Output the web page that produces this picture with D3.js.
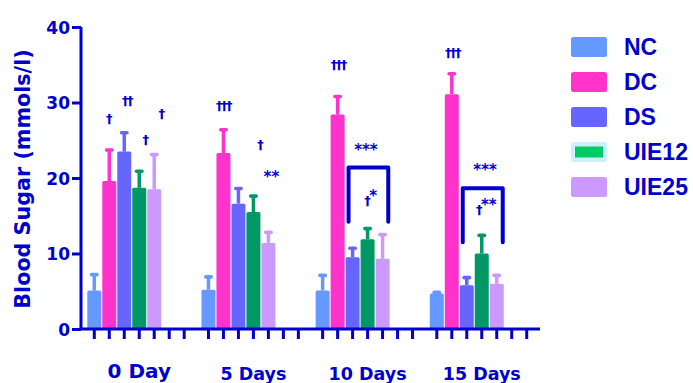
<!DOCTYPE html>
<html>
<head>
<meta charset="utf-8">
<script src="https://cdn.jsdelivr.net/npm/d3@7"></script>
<style>
  html, body { margin: 0; padding: 0; background: #ffffff; }
  svg { display: block; }
</style>
</head>
<body>
<script>
// ---------------- DATA ----------------
const groups = ["0 Day", "5 Days", "10 Days", "15 Days"];
const seriesNames = ["NC", "DC", "DS", "UIE12", "UIE25"];

const NC      = [5.1, 5.2, 5.1, 4.7];
const NC_sd   = [2.1, 1.7, 2.0, 0.15];
const DC      = [19.6, 23.3, 28.4, 31.1];
const DC_sd   = [4.1, 3.1, 2.4, 2.7];
const DS      = [23.5, 16.6, 9.5, 5.8];
const DS_sd   = [2.5, 2.0, 1.2, 1.0];
const UIE12    = [18.7, 15.5, 11.9, 10.0];
const UIE12_sd = [2.2, 2.1, 1.4, 2.4];
const UIE25    = [18.5, 11.4, 9.3, 6.0];
const UIE25_sd = [4.6, 1.4, 3.2, 1.1];

const yTicks = [0, 10, 20, 30, 40];

// significance marks: [group, slot, value, text, superscript]
const marks = [
  [0, 0.95, 27.9, "†", ""], [0, 2.18, 30.2, "††", ""], [0, 3.38, 25.1, "†", ""], [0, 4.45, 28.5, "†", ""],
  [1, 1.0, 29.6, "†††", ""], [1, 3.43, 24.4, "†", ""], [1, 4.2, 20.6, "**", ""],
  [2, 1.05, 35.0, "†††", ""], [2, 2.89, 24.2, "***", ""], [2, 3.2, 17.0, "†", "*"],
  [3, 1.04, 36.6, "†††", ""], [3, 3.22, 21.5, "***", ""], [3, 3.3, 15.8, "†", "**"]
];
// brackets: [group, slotStart, slotEnd, valueTop, valueBottom]
const brackets = [
  [2, 1.73, 4.38, 21.4, 14.2],
  [3, 1.73, 4.40, 18.65, 11.5]
];

// ---------------- STYLE ----------------
const colors = {NC: "#6699ff", DC: "#ff33cc", DS: "#6666ff", UIE12: "#009966", UIE25: "#cc99ff"};
const ink = "#0000cc";

const valueMap = {NC, DC, DS, UIE12, UIE25};
const sdMap = {NC: NC_sd, DC: DC_sd, DS: DS_sd, UIE12: UIE12_sd, UIE25: UIE25_sd};

const W = 693, H = 383;
const groupStep = 7.62, slotsPerGroup = 7, pad = 0.887;

const svg = d3.select("body").append("svg").attr("width", W).attr("height", H);

const x = d3.scaleLinear()
  .domain([-pad, (groups.length - 1) * groupStep + (slotsPerGroup - 1) + pad])
  .range([81, 540]);
const y = d3.scaleLinear().domain([0, 40]).range([329, 27]);
const slotPos = (g, s) => x(g * groupStep + s);

const barW = 14;

// bars + error bars
const barData = [];
groups.forEach((gName, g) => {
  seriesNames.forEach((s, i) => {
    barData.push({g, i, s, v: valueMap[s][g], e: sdMap[s][g]});
  });
});

const bars = svg.append("g");
bars.selectAll("line.err").data(barData).join("line")
  .attr("x1", d => slotPos(d.g, d.i)).attr("x2", d => slotPos(d.g, d.i))
  .attr("y1", d => y(d.v)).attr("y2", d => y(d.v + d.e))
  .attr("stroke", d => colors[d.s]).attr("stroke-width", 3.5);
bars.selectAll("rect.cap").data(barData).join("rect")
  .attr("x", d => slotPos(d.g, d.i) - 4.5)
  .attr("y", d => y(d.v + d.e) - 1.8)
  .attr("width", 9).attr("height", 3.6).attr("rx", 1.8)
  .attr("fill", d => colors[d.s]);
bars.selectAll("rect.bar").data(barData).join("rect")
  .attr("x", d => slotPos(d.g, d.i) - barW / 2)
  .attr("y", d => y(d.v))
  .attr("width", barW)
  .attr("height", d => y(0) - y(d.v))
  .attr("rx", 1.5)
  .attr("fill", d => colors[d.s]);

// axes
const yAxis = svg.append("g").attr("transform", `translate(${x.range()[0]},0)`)
  .call(d3.axisLeft(y).tickValues(yTicks).tickSize(9).tickPadding(2).tickFormat(d3.format("d")));
yAxis.select(".domain").attr("stroke", ink).attr("stroke-width", 3).attr("d", `M0,${y(40)}V${y(0)}`);
yAxis.selectAll(".tick line").attr("stroke", ink).attr("stroke-width", 3);
yAxis.selectAll(".tick text")
  .attr("fill", ink).attr("font-family", "DejaVu Sans").attr("font-weight", "bold")
  .attr("font-size", 17).attr("dy", "0.36em");

// x axis line
svg.append("line")
  .attr("x1", x.range()[0] - 1.5).attr("x2", x.range()[1])
  .attr("y1", y(0)).attr("y2", y(0))
  .attr("stroke", ink).attr("stroke-width", 3);

// x ticks below axis
const tickData = [];
groups.forEach((gName, g) => { for (let s = 0; s < slotsPerGroup; s++) tickData.push({g, s}); });
svg.append("g").selectAll("line").data(tickData).join("line")
  .attr("x1", d => slotPos(d.g, d.s)).attr("x2", d => slotPos(d.g, d.s))
  .attr("y1", y(0)).attr("y2", y(0) + 10)
  .attr("stroke", ink).attr("stroke-width", 3);

// group labels
svg.append("g").selectAll("text").data(groups).join("text")
  .attr("x", (d, g) => slotPos(g, 3))
  .attr("y", (d, g) => g === 0 ? 378 : 380)
  .attr("text-anchor", "middle")
  .attr("font-family", "DejaVu Sans").attr("font-weight", "bold")
  .attr("font-size", (d, g) => g === 0 ? 20 : 17.5)
  .attr("fill", ink)
  .text(d => d);

// y label
svg.append("text")
  .attr("transform", `translate(30,${(y(0) + y(40)) / 2 + 1}) rotate(-90)`)
  .attr("text-anchor", "middle")
  .attr("font-family", "DejaVu Sans").attr("font-weight", "bold").attr("font-size", 20.7)
  .attr("fill", ink)
  .text("Blood Sugar (mmols/l)");

// brackets
svg.append("g").selectAll("path").data(brackets).join("path")
  .attr("d", d => {
    const x1 = slotPos(d[0], d[1]), x2 = slotPos(d[0], d[2]);
    return `M${x1},${y(d[4])}V${y(d[3])}H${x2}V${y(d[4])}`;
  })
  .attr("fill", "none").attr("stroke", ink).attr("stroke-width", 4)
  .attr("stroke-linejoin", "round").attr("stroke-linecap", "round");

// significance marks
const isStar = t => t.includes("*");
const mk = svg.append("g").selectAll("text").data(marks).join("text")
  .attr("x", d => slotPos(d[0], d[1]))
  .attr("y", d => y(d[2]) + (isStar(d[3]) ? 8.5 : 4.5))
  .attr("text-anchor", "middle")
  .attr("font-family", "DejaVu Sans")
  .attr("font-weight", "bold")
  .attr("fill", ink);
mk.append("tspan")
  .attr("font-size", d => isStar(d[3]) ? 15 : 13)
  .attr("letter-spacing", d => isStar(d[3]) ? 0 : -1.5)
  .text(d => d[3]);
mk.filter(d => d[4] !== "").append("tspan")
  .attr("font-size", 15)
  .attr("dy", -4)
  .text(d => d[4]);

// legend
const legend = svg.append("g");
const lg = legend.selectAll("g").data(seriesNames).join("g")
  .attr("transform", (d, i) => `translate(571,${37 + i * 35})`);
lg.append("rect")
  .attr("width", 36).attr("height", 20).attr("rx", 2.5)
  .attr("fill", d => d === "UIE12" ? "#ccf0ff" : colors[d]);
lg.filter(d => d === "UIE12").append("rect")
  .attr("x", 4).attr("y", 4.5).attr("width", 28).attr("height", 11)
  .attr("fill", "#00cc66");
lg.append("text")
  .attr("x", 53).attr("y", 18)
  .attr("font-family", "Liberation Sans, Arial, sans-serif").attr("font-weight", "bold")
  .attr("font-size", 23)
  .attr("fill", ink)
  .text(d => d);
</script>
</body>
</html>
